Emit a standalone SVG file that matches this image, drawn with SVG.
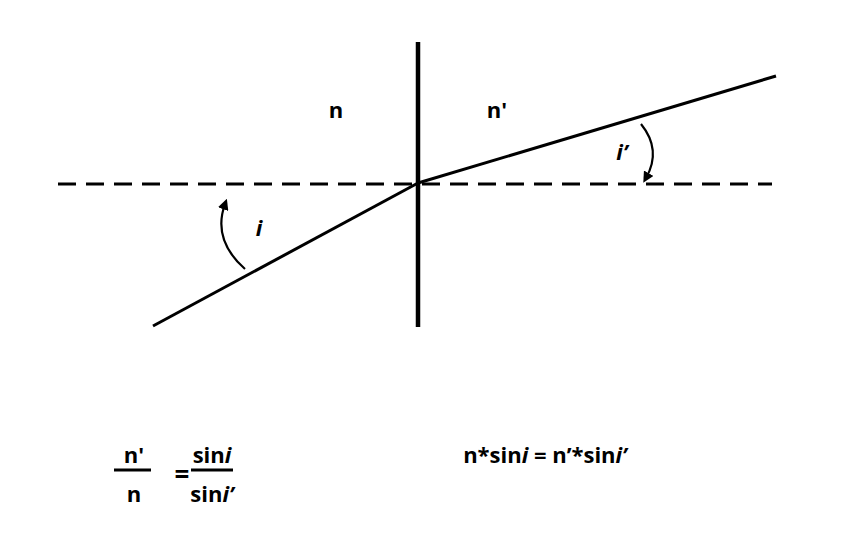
<svg xmlns="http://www.w3.org/2000/svg" width="846" height="553" viewBox="0 0 846 553">
<style>
.t{font-family:"Open Sans","Liberation Sans",sans-serif;font-weight:bold;font-size:22px;fill:#000}
.ln{stroke:#000;fill:none;stroke-width:3}
</style>
<defs><marker id="ah" viewBox="0 0 10 10" refX="5" refY="5" markerWidth="5" markerHeight="5" orient="auto"><path d="M0,0L10,5L0,10z"/></marker></defs>
<rect width="846" height="553" fill="#fff"/>
<g id="connectors">
<line class="ln" x1="58" y1="184" x2="772" y2="184" stroke-dasharray="18,10"/>
<line class="ln" x1="418" y1="42" x2="418" y2="327" style="stroke-width:4.5"/>
<line class="ln" x1="153" y1="326" x2="418" y2="183"/>
<line class="ln" x1="418" y1="183" x2="776" y2="76"/>
<path class="ln" d="M245,269 Q212,240 225,204" style="stroke-width:2.2" marker-end="url(#ah)"/>
<path class="ln" d="M641,124 Q662,150 646,178" style="stroke-width:2.2" marker-end="url(#ah)"/>
</g>
<g id="labels">
<text class="t" x="336" y="118" text-anchor="middle">n</text>
<text class="t" x="497" y="118" text-anchor="middle">n'</text>
<text class="t" x="259" y="236" text-anchor="middle" font-style="italic">i</text>
<text class="t" x="622" y="160" text-anchor="middle" font-style="italic">i’</text>
</g>
<g id="formula1">
<text class="t" x="134" y="463" text-anchor="middle">n'</text>
<line class="ln" x1="114" y1="470" x2="151" y2="470"/>
<text class="t" x="134" y="502" text-anchor="middle">n</text>
<text class="t" x="182" y="484" text-anchor="middle" style="font-size:26px">=</text>
<text class="t" x="212" y="463" text-anchor="middle">sin<tspan font-style="italic">i</tspan></text>
<line class="ln" x1="191" y1="470" x2="233" y2="470"/>
<text class="t" x="212" y="502" text-anchor="middle">sin<tspan font-style="italic">i’</tspan></text>
</g>
<g id="formula2">
<text class="t" x="545" y="463" text-anchor="middle">n*sin<tspan font-style="italic">i</tspan> = n’*sin<tspan font-style="italic">i’</tspan></text>
</g>
</svg>
